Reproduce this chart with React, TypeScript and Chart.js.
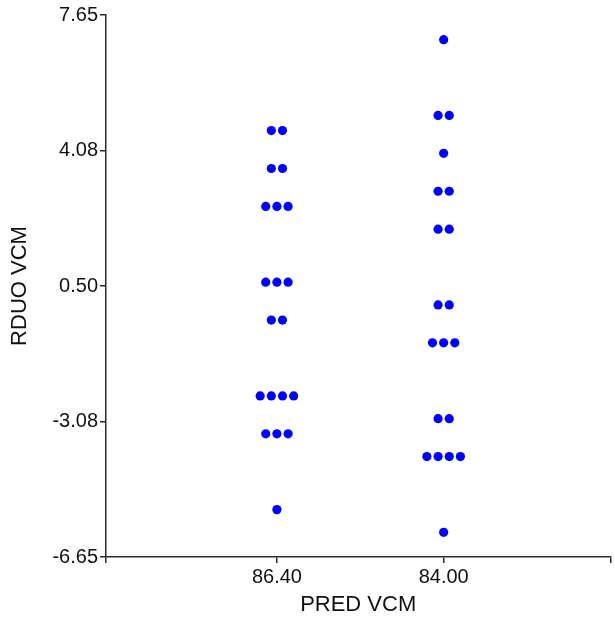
import React, { useEffect, useRef } from "react";
import { Chart, registerables } from "chart.js";

Chart.register(...registerables);

const categories = ["86.40", "84.00"];
const group1Values = [4.6, 4.6, 3.6, 3.6, 2.6, 2.6, 2.6, 0.6, 0.6, 0.6, -0.4, -0.4, -2.4, -2.4, -2.4, -2.4, -3.4, -3.4, -3.4, -5.4];
const group2Values = [7, 5, 5, 4, 3, 3, 2, 2, 0, 0, -1, -1, -1, -3, -3, -4, -4, -4, -4, -6];
const yTickValues = [-6.65, -3.08, 0.5, 4.08, 7.65];
const xTickValues = [1, 2, 3];

const FONT = "'Liberation Sans', Arial, sans-serif";
const AXIS_COLOR = "#2a2a2a";
const DOT_SPACING = 0.067; // horizontal spacing between stacked dots, in x-axis units

function swarm(values: number[], center: number) {
  const counts = new Map<number, number>();
  values.forEach((v) => counts.set(v, (counts.get(v) || 0) + 1));
  const seen = new Map<number, number>();
  return values.map((v) => {
    const n = counts.get(v) || 1;
    const k = seen.get(v) || 0;
    seen.set(v, k + 1);
    return { x: center + (k - (n - 1) / 2) * DOT_SPACING, y: v };
  });
}

export default function App() {
  const ref = useRef<HTMLCanvasElement | null>(null);
  useEffect(() => {
    if (!ref.current) return;
    const chart = new Chart(ref.current, {
      type: "scatter",
      data: {
        datasets: [
          {
            data: [...swarm(group1Values, 1), ...swarm(group2Values, 2)],
            backgroundColor: "#0000ff",
            borderColor: "#0000ff",
            borderWidth: 0,
            pointRadius: 4.6,
            pointHoverRadius: 4.6,
          },
        ],
      },
      options: {
        animation: false,
        responsive: true,
        maintainAspectRatio: false,
        layout: { padding: { top: 15, right: 0, bottom: 0, left: 0 } },
        plugins: { legend: { display: false }, tooltip: { enabled: false } },
        scales: {
          x: {
            type: "linear",
            min: -0.025,
            max: 3,
            afterBuildTicks: (s: any) => {
              s.ticks = [s.min, ...xTickValues].map((v) => ({ value: v }));
            },
            afterFit: (s: any) => {
              s.height = 68;
            },
            ticks: {
              autoSkip: false,
              maxRotation: 0,
              padding: 2,
              color: "#111",
              font: { family: FONT, size: 20 },
              callback: (v: any) => {
                const n = Number(v);
                const i = n - 1;
                return Number.isInteger(n) && i >= 0 && i < categories.length ? categories[i] : "";
              },
            },
            grid: { display: true, drawOnChartArea: false, drawTicks: true, tickLength: 6, color: AXIS_COLOR, lineWidth: 1.5 },
            border: { display: true, color: AXIS_COLOR, width: 1.5 },
            title: {
              display: true,
              text: "PRED VCM",
              color: "#111",
              font: { family: FONT, size: 22 },
              padding: { top: 0, bottom: 7 },
            },
          },
          y: {
            type: "linear",
            min: -6.65,
            max: 7.65,
            afterBuildTicks: (s: any) => {
              s.ticks = yTickValues.map((v) => ({ value: v }));
            },
            afterFit: (s: any) => {
              s.width = 106;
            },
            ticks: {
              padding: 2,
              color: "#111",
              font: { family: FONT, size: 20 },
              callback: (v: any) => Number(v).toFixed(2),
            },
            grid: { display: true, drawOnChartArea: false, drawTicks: true, tickLength: 6, color: AXIS_COLOR, lineWidth: 1.5 },
            border: { display: true, color: AXIS_COLOR, width: 1.5 },
            title: {
              display: true,
              text: "RDUO VCM",
              color: "#111",
              font: { family: FONT, size: 22 },
              padding: { top: 7, bottom: 0 },
            },
          },
        },
      },
    });
    return () => chart.destroy();
  }, []);
  return (
    <div style={{ position: "fixed", left: 0, top: 0, width: 615, height: 625, background: "#fff" }}>
      <canvas ref={ref} />
    </div>
  );
}
